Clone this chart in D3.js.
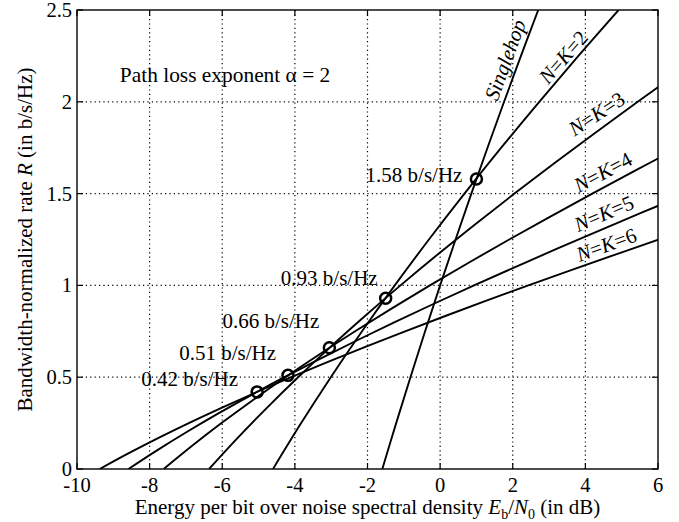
<!DOCTYPE html>
<html>
<head>
<meta charset="utf-8">
<script src="https://cdn.jsdelivr.net/npm/d3@7"></script>
<style>
  body { margin: 0; background: #fff; }
  svg { display: block; font-family: "Liberation Serif", "Times New Roman", serif; }
  .grid line { stroke: #000; stroke-width: 1.2; stroke-dasharray: 1.2 3.2; }
  .curve { fill: none; stroke: #000; stroke-width: 1.9; }
  .cross { fill: none; stroke: #000; stroke-width: 2.5; }
</style>
</head>
<body>
<svg id="chart" width="679" height="522"></svg>
<script>
// -------------------------------------------------------------------------
// Data

const xTicks = [-10, -8, -6, -4, -2, 0, 2, 4, 6];
const yTicks = [0, 0.5, 1, 1.5, 2, 2.5];
const yTickLabels = ['0', '0.5', '1', '1.5', '2', '2.5'];

// [Eb/N0 in dB, rate R]
const singlehop = [[-1.592, 0], [-1.210, 0.25], [-0.817, 0.5], [-0.414, 0.75], [0, 1],
  [0.425, 1.25], [0.860, 1.5], [1.305, 1.75], [1.761, 2], [2.226, 2.25], [2.702, 2.5]];
const nk2 = [[-4.602, 0], [-3.827, 0.25], [-3.010, 0.5], [-2.150, 0.75], [-1.249, 1],
  [-0.308, 1.25], [0.670, 1.5], [1.683, 1.75], [2.730, 2], [3.808, 2.25], [4.914, 2.5]];
const nk3 = [[-6.363, 0], [-5.588, 0.1667], [-4.771, 0.3333], [-3.911, 0.5], [-3.010, 0.6667],
  [-2.069, 0.8333], [-1.091, 1], [-0.078, 1.1667], [0.969, 1.3333], [2.047, 1.5],
  [3.153, 1.6667], [4.285, 1.8333], [5.441, 2], [6.619, 2.1667]];
const nk4 = [[-7.613, 0], [-6.838, 0.125], [-6.021, 0.25], [-5.161, 0.375], [-4.260, 0.5],
  [-3.319, 0.625], [-2.341, 0.75], [-1.328, 0.875], [-0.281, 1], [0.797, 1.125],
  [1.903, 1.25], [3.035, 1.375], [4.191, 1.5], [5.369, 1.625], [6.566, 1.75]];
const nk5 = [[-8.582, 0], [-7.807, 0.1], [-6.990, 0.2], [-6.130, 0.3], [-5.229, 0.4],
  [-4.288, 0.5], [-3.310, 0.6], [-2.297, 0.7], [-1.250, 0.8], [-0.172, 0.9], [0.934, 1.0],
  [2.066, 1.1], [3.222, 1.2], [4.400, 1.3], [5.597, 1.4], [6.813, 1.5]];
const nk6 = [[-9.374, 0], [-8.599, 0.0833], [-7.782, 0.1667], [-6.922, 0.25], [-6.021, 0.3333],
  [-5.080, 0.4167], [-4.102, 0.5], [-3.089, 0.5833], [-2.042, 0.6667], [-0.964, 0.75],
  [0.142, 0.8333], [1.274, 0.9167], [2.430, 1.0], [3.608, 1.0833], [4.805, 1.1667],
  [6.021, 1.25]];

// crossing points between neighbouring curves
const crossX = [-5.04, -4.19, -3.05, -1.50, 1.00];
const crossR = [0.42, 0.51, 0.66, 0.93, 1.58];
const crossLabels = ['0.42 b/s/Hz', '0.51 b/s/Hz', '0.66 b/s/Hz', '0.93 b/s/Hz', '1.58 b/s/Hz'];

const curveNames = ['Singlehop', '2', '3', '4', '5', '6'];

// -------------------------------------------------------------------------
// Layout

const width = 679, height = 522;
const margin = { left: 77, right: 21, top: 10, bottom: 53 };
const tickLen = 6;
const labelSize = 21;
// label offsets (px) from each crossing circle: [dx, dy] to the text end / baseline
const crossOffsets = [[-19, -6], [-12, -15], [-10, -20], [-8, -13], [-14, 3]];
// curve labels: data anchor for the start of the baseline, and rotation
const curveLabelPos = [
  { x: 1.58, y: 2.00, angle: -70 },
  { x: 2.98, y: 2.09, angle: -49 },
  { x: 3.70, y: 1.81, angle: -33 },
  { x: 3.82, y: 1.503, angle: -28 },
  { x: 3.80, y: 1.29, angle: -23 },
  { x: 3.84, y: 1.127, angle: -20 }
];

const svg = d3.select('#chart');

const x = d3.scaleLinear().domain([-10, 6]).range([margin.left, width - margin.right]);
const y = d3.scaleLinear().domain([0, 2.5]).range([height - margin.bottom, margin.top]);

const x0 = x.range()[0], x1 = x.range()[1];
const y0 = y.range()[0], y1 = y.range()[1];

// grid
const grid = svg.append('g').attr('class', 'grid');
grid.selectAll('.gx')
  .data(xTicks.slice(1, -1))
  .enter()
  .append('line')
  .attr('x1', d => x(d)).attr('x2', d => x(d))
  .attr('y1', y0).attr('y2', y1);
grid.selectAll('.gy')
  .data(yTicks.slice(1, -1))
  .enter()
  .append('line')
  .attr('y1', d => y(d)).attr('y2', d => y(d))
  .attr('x1', x0).attr('x2', x1);

// curves
svg.append('clipPath').attr('id', 'plot-clip')
  .append('rect')
  .attr('x', x0).attr('y', y1)
  .attr('width', x1 - x0).attr('height', y0 - y1);

const line = d3.line()
  .x(d => x(d[0]))
  .y(d => y(d[1]))
  .curve(d3.curveCatmullRom.alpha(0.5));

const curves = [singlehop, nk2, nk3, nk4, nk5, nk6];
svg.append('g')
  .attr('clip-path', 'url(#plot-clip)')
  .selectAll('path')
  .data(curves)
  .enter()
  .append('path')
  .attr('class', 'curve')
  .attr('d', line);

// crossing circles and labels
const crossings = crossR.map((r, i) => ({ x: crossX[i], r: r, label: crossLabels[i] }));
svg.append('g')
  .selectAll('circle')
  .data(crossings)
  .enter()
  .append('circle')
  .attr('class', 'cross')
  .attr('cx', d => x(d.x))
  .attr('cy', d => y(d.r))
  .attr('r', 5.5);

svg.append('g')
  .selectAll('text')
  .data(crossings)
  .enter()
  .append('text')
  .attr('x', (d, i) => x(d.x) + crossOffsets[i][0])
  .attr('y', (d, i) => y(d.r) + crossOffsets[i][1])
  .attr('text-anchor', 'end')
  .attr('font-size', labelSize)
  .text(d => d.label);

// curve labels
const labels = svg.append('g')
  .selectAll('text')
  .data(curveNames)
  .enter()
  .append('text')
  .attr('font-size', labelSize)
  .attr('transform', (d, i) => {
    const p = curveLabelPos[i];
    return `translate(${x(p.x)},${y(p.y)}) rotate(${p.angle})`;
  });
labels.each(function(d) {
  const t = d3.select(this);
  if (d === 'Singlehop') {
    t.append('tspan').attr('font-style', 'italic').text(d);
  } else {
    t.append('tspan').attr('font-style', 'italic').text('N');
    t.append('tspan').text('=');
    t.append('tspan').attr('font-style', 'italic').text('K');
    t.append('tspan').text('=' + d);
  }
});

// annotation
svg.append('text')
  .attr('x', x(-8.82))
  .attr('y', y(2.11))
  .attr('font-size', 21.4)
  .text('Path loss exponent \u03b1 = 2');

// axes box + inward ticks
svg.append('rect')
  .attr('x', x0).attr('y', y1)
  .attr('width', x1 - x0).attr('height', y0 - y1)
  .attr('fill', 'none').attr('stroke', '#000').attr('stroke-width', 1.4);

const ticks = svg.append('g').attr('stroke', '#000').attr('stroke-width', 1.2);
xTicks.forEach(t => {
  ticks.append('line').attr('x1', x(t)).attr('x2', x(t)).attr('y1', y0).attr('y2', y0 - tickLen);
  ticks.append('line').attr('x1', x(t)).attr('x2', x(t)).attr('y1', y1).attr('y2', y1 + tickLen);
});
yTicks.forEach(t => {
  ticks.append('line').attr('y1', y(t)).attr('y2', y(t)).attr('x1', x0).attr('x2', x0 + tickLen);
  ticks.append('line').attr('y1', y(t)).attr('y2', y(t)).attr('x1', x1).attr('x2', x1 - tickLen);
});

// tick labels
svg.append('g')
  .selectAll('text')
  .data(xTicks)
  .enter()
  .append('text')
  .attr('x', d => x(d))
  .attr('y', y0 + 23)
  .attr('text-anchor', 'middle')
  .attr('font-size', 20.5)
  .text(d => d);

svg.append('g')
  .selectAll('text')
  .data(yTicks)
  .enter()
  .append('text')
  .attr('x', x0 - 5)
  .attr('y', d => y(d))
  .attr('dy', '0.34em')
  .attr('text-anchor', 'end')
  .attr('font-size', 20.5)
  .text((d, i) => yTickLabels[i]);

// axis titles
const xTitle = svg.append('text')
  .attr('x', (x0 + x1) / 2)
  .attr('y', y0 + 45)
  .attr('text-anchor', 'middle')
  .attr('font-size', 21);
xTitle.append('tspan').text('Energy per bit over noise spectral density ');
xTitle.append('tspan').attr('font-style', 'italic').text('E');
xTitle.append('tspan').attr('font-size', 14).attr('dy', 5).text('b');
xTitle.append('tspan').attr('dy', -5).text('/');
xTitle.append('tspan').attr('font-style', 'italic').text('N');
xTitle.append('tspan').attr('font-size', 14).attr('dy', 5).text('0');
xTitle.append('tspan').attr('dy', -5).text(' (in dB)');

const yTitle = svg.append('text')
  .attr('transform', `translate(32,${(y0 + y1) / 2}) rotate(-90)`)
  .attr('text-anchor', 'middle')
  .attr('font-size', 21);
yTitle.append('tspan').text('Bandwidth-normalized rate ');
yTitle.append('tspan').attr('font-style', 'italic').text('R');
yTitle.append('tspan').text(' (in b/s/Hz)');
</script>
</body>
</html>
